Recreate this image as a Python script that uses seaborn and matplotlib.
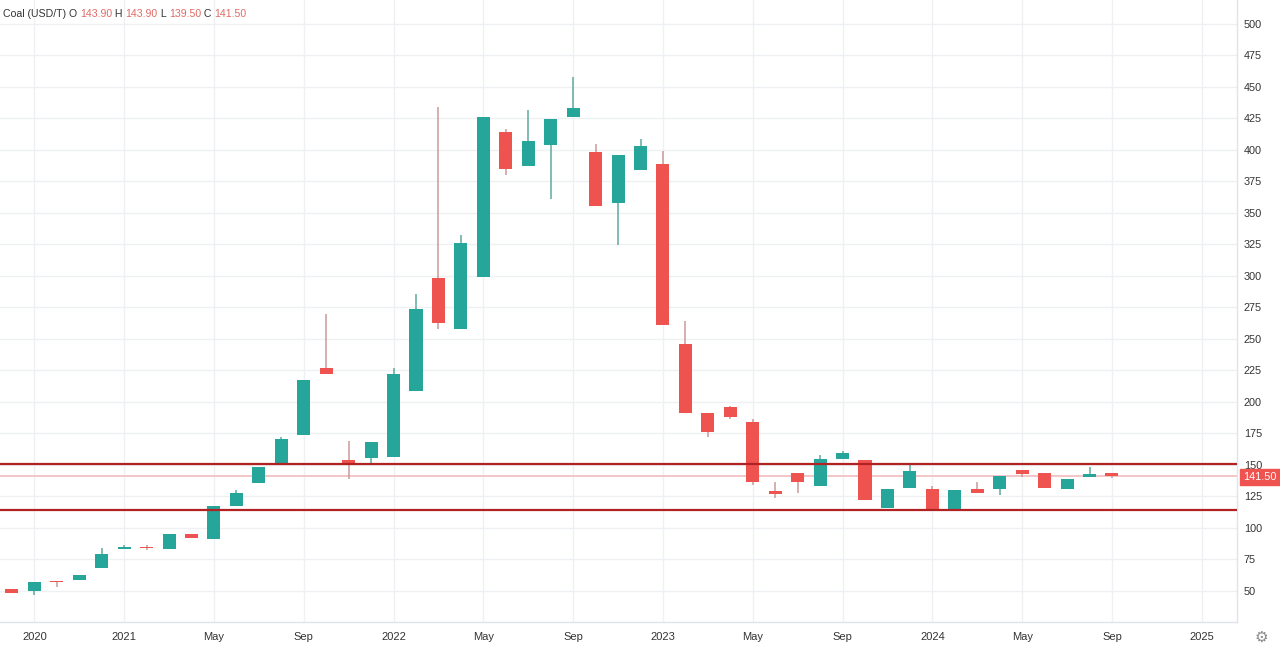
import numpy as np
import pandas as pd
import seaborn as sns
import matplotlib
matplotlib.use("Agg")
import matplotlib.pyplot as plt

# ---- data (monthly candles, index order) ----
opens = [51.3, 50.0, 57.3, 58.7, 68.5, 83.1, 84.7, 83.1, 95.5, 91.5,
         117.7, 136.0, 150.8, 173.6, 226.7, 154.0, 155.9, 156.6, 209.0, 298.2,
         257.7, 299.5, 414.3, 387.0, 404.2, 426.4, 398.7, 358.2, 384.1, 388.8,
         246.0, 191.0, 196.0, 184.3, 129.4, 143.9, 133.6, 154.8, 154.0, 116.1,
         132.0, 131.0, 114.3, 131.0, 131.0, 146.0, 143.4, 131.0, 140.7, 143.9]
highs = [51.3, 57.4, 57.3, 62.7, 84.4, 86.5, 86.3, 95.0, 95.5, 117.7,
         130.2, 148.7, 172.0, 217.5, 269.6, 169.0, 168.3, 226.7, 285.5, 434.4,
         332.5, 426.0, 417.0, 431.7, 424.3, 457.7, 404.8, 396.3, 408.5, 399.0,
         264.3, 191.0, 197.0, 186.5, 136.8, 143.9, 157.9, 161.4, 154.0, 131.0,
         151.3, 133.3, 129.9, 136.8, 141.0, 146.0, 143.4, 138.9, 148.7, 143.9]
lows = [48.6, 46.8, 53.2, 58.7, 68.5, 83.1, 82.5, 83.1, 92.1, 91.5,
        117.7, 136.0, 150.8, 173.6, 222.5, 138.7, 151.3, 156.6, 209.0, 257.7,
        257.7, 299.5, 380.0, 387.0, 360.8, 426.4, 355.6, 324.6, 384.1, 261.4,
        191.5, 172.5, 186.3, 134.1, 123.6, 127.5, 133.6, 154.8, 122.2, 116.1,
        132.0, 114.3, 114.3, 127.8, 126.2, 140.2, 132.0, 131.0, 140.7, 139.5]
closes = [48.8, 57.4, 57.0, 62.7, 79.6, 85.2, 83.8, 95.0, 92.1, 117.7,
          127.5, 148.7, 170.9, 217.5, 222.5, 150.8, 168.3, 222.0, 273.6, 263.0,
          326.0, 426.0, 385.0, 407.0, 424.3, 433.0, 355.6, 396.3, 403.2, 261.4,
          191.5, 176.2, 188.3, 136.8, 126.7, 136.2, 155.0, 159.3, 122.2, 131.0,
          145.5, 114.3, 129.9, 127.8, 141.0, 142.6, 132.0, 138.9, 142.9, 141.5]

xtick_idx = [1, 5, 9, 13, 17, 21, 25, 29, 33, 37, 41, 45, 49, 53]
xtick_labels = ["2020", "2021", "May", "Sep", "2022", "May", "Sep",
                "2023", "May", "Sep", "2024", "May", "Sep", "2025"]
ytick_vals = list(range(50, 501, 25))
level_lines = [150.8, 114.4]
last_price = 141.5
header_vals = ["143.90", "143.90", "139.50", "141.50"]

df = pd.DataFrame({"open": opens, "high": highs, "low": lows, "close": closes})
df["idx"] = np.arange(len(df))
df["up"] = df["close"] >= df["open"]

GREEN = "#26a69a"
RED = "#ef5350"
GREEN_W = "#5fa8a0"
RED_W = "#c99a98"

sns.set_theme(style="white")
plt.rcParams["font.family"] = ["Liberation Sans", "DejaVu Sans"]

fig = plt.figure(figsize=(12.8, 6.56), dpi=100)
ax = fig.add_axes([0.0, 34 / 656, 1237 / 1280, 1 - 34 / 656])

# grid
for v in ytick_vals:
    ax.axhline(v, color="#eef0f3", lw=1, zorder=0)
for xi in xtick_idx:
    ax.axvline(xi, color="#eef0f3", lw=1, zorder=0)

# wicks
for up, grp in df.groupby("up"):
    ax.vlines(grp["idx"], grp["low"], grp["high"],
              color=GREEN_W if up else RED_W, lw=1.1, zorder=2)
# bodies
for up, grp in df.groupby("up"):
    lo = np.minimum(grp["open"], grp["close"])
    h = np.maximum(np.abs(grp["close"] - grp["open"]), 0.6)
    ax.bar(grp["idx"], h, bottom=lo, width=0.58,
           color=GREEN if up else RED, linewidth=0, zorder=3)

# level lines
for lv in level_lines:
    ax.axhline(lv, color="#b22222", lw=1.6, zorder=4)
ax.axhline(last_price, color="#f3c6c6", lw=1.4, zorder=1)

ax.set_xlim(-0.53, 54.57)
ax.set_ylim(25.4, 519)
ax.set_xticks(xtick_idx)
ax.set_xticklabels(xtick_labels)
ax.set_yticks(ytick_vals)
ax.set_yticklabels([str(v) for v in ytick_vals])
ax.yaxis.tick_right()
ax.tick_params(axis="y", length=0, pad=5, labelsize=7.8, colors="#333333")
ax.tick_params(axis="x", length=0, pad=7, labelsize=8, colors="#333333")
for s in ["top", "left"]:
    ax.spines[s].set_visible(False)
for s in ["right", "bottom"]:
    ax.spines[s].set_color("#e0e3eb")
    ax.spines[s].set_linewidth(1)
ax.set_facecolor("white")

# last price tag
ax.annotate(f"{last_price:.2f}", xy=(1.0, last_price),
            xycoords=("axes fraction", "data"), xytext=(4.5, -1),
            textcoords="offset points", ha="left", va="center",
            fontsize=7.8, color="white", annotation_clip=False, zorder=10,
            bbox=dict(boxstyle="square,pad=0.28", fc=RED, ec=RED))

# header
gray = "#333333"
vcol = "#e06a66"
t = fig.text(3 / 1280, 1 - 14 / 656, "Coal (USD/T) O ", fontsize=7.6,
             color=gray, va="center", ha="left")
pieces = [(header_vals[0], vcol), (" H ", gray), (header_vals[1], vcol),
          (" L ", gray), (header_vals[2], vcol), (" C ", gray),
          (header_vals[3], vcol)]
prev = t
for txt, c in pieces:
    prev = ax.annotate(txt, xy=(1, 0.5), xycoords=prev, xytext=(0, 0),
                       textcoords="offset points", ha="left", va="center",
                       fontsize=7.6, color=c, annotation_clip=False)

# gear icon
fig.text(1261 / 1280, 1 - 637 / 656, "\u2699", fontsize=11, color="#8a8a8a",
         ha="center", va="center", family=["DejaVu Sans"])

fig.savefig("out.png", dpi=100, facecolor="white")
